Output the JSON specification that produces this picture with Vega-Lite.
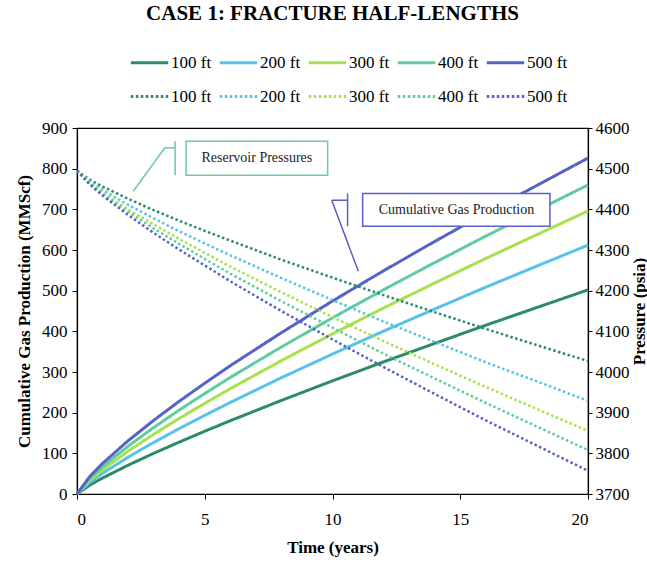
{
  "$schema": "https://vega.github.io/schema/vega-lite/v6.json",
  "width": 511,
  "height": 366,
  "autosize": {"type": "none"},
  "padding": {"left": 77, "top": 128, "right": 59, "bottom": 73},
  "background": "white",
  "title": {"text": "CASE 1: FRACTURE HALF-LENGTHS", "font": "Liberation Serif", "fontSize": 21, "fontWeight": "bold", "color": "black", "anchor": "middle", "offset": 18},
  "config": {
    "view": {"stroke": "black", "strokeWidth": 1.2},
    "axis": {"labelFont": "Liberation Serif", "titleFont": "Liberation Serif", "labelFontSize": 17, "titleFontSize": 17, "titleFontWeight": "bold", "labelColor": "black", "titleColor": "black", "domainColor": "black", "tickColor": "black", "grid": false, "tickSize": 5, "domainWidth": 1.2, "format": "d"},
    "legend": {"labelFont": "Liberation Serif", "labelFontSize": 17, "labelColor": "black", "labelFontWeight": "normal"}
  },
  "datasets": {
    "gas": [
      {"t": 0, "curve": "Gas 100 ft", "v": 0}, {"t": 0.5, "curve": "Gas 100 ft", "v": 21.8}, {"t": 1, "curve": "Gas 100 ft", "v": 39.3}, {"t": 2, "curve": "Gas 100 ft", "v": 70.8}, {"t": 3, "curve": "Gas 100 ft", "v": 100}, {"t": 4, "curve": "Gas 100 ft", "v": 127.6}, {"t": 5, "curve": "Gas 100 ft", "v": 154.3}, {"t": 6, "curve": "Gas 100 ft", "v": 180.2}, {"t": 8, "curve": "Gas 100 ft", "v": 230.1}, {"t": 10, "curve": "Gas 100 ft", "v": 278.2}, {"t": 12, "curve": "Gas 100 ft", "v": 324.9}, {"t": 14, "curve": "Gas 100 ft", "v": 370.3}, {"t": 16, "curve": "Gas 100 ft", "v": 415}, {"t": 18, "curve": "Gas 100 ft", "v": 458.6}, {"t": 20, "curve": "Gas 100 ft", "v": 502},
      {"t": 0, "curve": "Gas 200 ft", "v": 0}, {"t": 0.5, "curve": "Gas 200 ft", "v": 28.6}, {"t": 1, "curve": "Gas 200 ft", "v": 50.9}, {"t": 2, "curve": "Gas 200 ft", "v": 90.5}, {"t": 3, "curve": "Gas 200 ft", "v": 126.7}, {"t": 4, "curve": "Gas 200 ft", "v": 160.8}, {"t": 5, "curve": "Gas 200 ft", "v": 193.4}, {"t": 6, "curve": "Gas 200 ft", "v": 225.2}, {"t": 8, "curve": "Gas 200 ft", "v": 286}, {"t": 10, "curve": "Gas 200 ft", "v": 344.1}, {"t": 12, "curve": "Gas 200 ft", "v": 400.5}, {"t": 14, "curve": "Gas 200 ft", "v": 454.8}, {"t": 16, "curve": "Gas 200 ft", "v": 508.7}, {"t": 18, "curve": "Gas 200 ft", "v": 560.4}, {"t": 20, "curve": "Gas 200 ft", "v": 612},
      {"t": 0, "curve": "Gas 300 ft", "v": 0}, {"t": 0.5, "curve": "Gas 300 ft", "v": 33.8}, {"t": 1, "curve": "Gas 300 ft", "v": 59.6}, {"t": 2, "curve": "Gas 300 ft", "v": 105.2}, {"t": 3, "curve": "Gas 300 ft", "v": 146.7}, {"t": 4, "curve": "Gas 300 ft", "v": 185.8}, {"t": 5, "curve": "Gas 300 ft", "v": 222.9}, {"t": 6, "curve": "Gas 300 ft", "v": 259}, {"t": 8, "curve": "Gas 300 ft", "v": 327.9}, {"t": 10, "curve": "Gas 300 ft", "v": 393.8}, {"t": 12, "curve": "Gas 300 ft", "v": 457.4}, {"t": 14, "curve": "Gas 300 ft", "v": 518.8}, {"t": 16, "curve": "Gas 300 ft", "v": 579.2}, {"t": 18, "curve": "Gas 300 ft", "v": 637.7}, {"t": 20, "curve": "Gas 300 ft", "v": 696},
      {"t": 0, "curve": "Gas 400 ft", "v": 0}, {"t": 0.5, "curve": "Gas 400 ft", "v": 38.3}, {"t": 1, "curve": "Gas 400 ft", "v": 67.1}, {"t": 2, "curve": "Gas 400 ft", "v": 117.6}, {"t": 3, "curve": "Gas 400 ft", "v": 163.4}, {"t": 4, "curve": "Gas 400 ft", "v": 206.3}, {"t": 5, "curve": "Gas 400 ft", "v": 247}, {"t": 6, "curve": "Gas 400 ft", "v": 286.6}, {"t": 8, "curve": "Gas 400 ft", "v": 361.5}, {"t": 10, "curve": "Gas 400 ft", "v": 433.2}, {"t": 12, "curve": "Gas 400 ft", "v": 502.3}, {"t": 14, "curve": "Gas 400 ft", "v": 569.2}, {"t": 16, "curve": "Gas 400 ft", "v": 634.1}, {"t": 18, "curve": "Gas 400 ft", "v": 697.2}, {"t": 20, "curve": "Gas 400 ft", "v": 760},
      {"t": 0, "curve": "Gas 500 ft", "v": 0}, {"t": 0.5, "curve": "Gas 500 ft", "v": 43.2}, {"t": 1, "curve": "Gas 500 ft", "v": 75.2}, {"t": 2, "curve": "Gas 500 ft", "v": 130.9}, {"t": 3, "curve": "Gas 500 ft", "v": 181.1}, {"t": 4, "curve": "Gas 500 ft", "v": 227.9}, {"t": 5, "curve": "Gas 500 ft", "v": 272.4}, {"t": 6, "curve": "Gas 500 ft", "v": 315.5}, {"t": 8, "curve": "Gas 500 ft", "v": 396.7}, {"t": 10, "curve": "Gas 500 ft", "v": 474.5}, {"t": 12, "curve": "Gas 500 ft", "v": 549}, {"t": 14, "curve": "Gas 500 ft", "v": 620.9}, {"t": 16, "curve": "Gas 500 ft", "v": 691}, {"t": 18, "curve": "Gas 500 ft", "v": 758.8}, {"t": 20, "curve": "Gas 500 ft", "v": 826}
    ],
    "pressure": [
      {"t": 0, "curve": "Pressure 100 ft", "p": 4495}, {"t": 0.5, "curve": "Pressure 100 ft", "p": 4473}, {"t": 1, "curve": "Pressure 100 ft", "p": 4456}, {"t": 2, "curve": "Pressure 100 ft", "p": 4426}, {"t": 3, "curve": "Pressure 100 ft", "p": 4398}, {"t": 4, "curve": "Pressure 100 ft", "p": 4372}, {"t": 5, "curve": "Pressure 100 ft", "p": 4347}, {"t": 6, "curve": "Pressure 100 ft", "p": 4323}, {"t": 8, "curve": "Pressure 100 ft", "p": 4276}, {"t": 10, "curve": "Pressure 100 ft", "p": 4232}, {"t": 12, "curve": "Pressure 100 ft", "p": 4189}, {"t": 14, "curve": "Pressure 100 ft", "p": 4147}, {"t": 16, "curve": "Pressure 100 ft", "p": 4106}, {"t": 18, "curve": "Pressure 100 ft", "p": 4066}, {"t": 20, "curve": "Pressure 100 ft", "p": 4027},
      {"t": 0, "curve": "Pressure 200 ft", "p": 4495}, {"t": 0.5, "curve": "Pressure 200 ft", "p": 4469}, {"t": 1, "curve": "Pressure 200 ft", "p": 4448}, {"t": 2, "curve": "Pressure 200 ft", "p": 4411}, {"t": 3, "curve": "Pressure 200 ft", "p": 4378}, {"t": 4, "curve": "Pressure 200 ft", "p": 4346}, {"t": 5, "curve": "Pressure 200 ft", "p": 4316}, {"t": 6, "curve": "Pressure 200 ft", "p": 4287}, {"t": 8, "curve": "Pressure 200 ft", "p": 4231}, {"t": 10, "curve": "Pressure 200 ft", "p": 4177}, {"t": 12, "curve": "Pressure 200 ft", "p": 4124}, {"t": 14, "curve": "Pressure 200 ft", "p": 4074}, {"t": 16, "curve": "Pressure 200 ft", "p": 4024}, {"t": 18, "curve": "Pressure 200 ft", "p": 3977}, {"t": 20, "curve": "Pressure 200 ft", "p": 3929},
      {"t": 0, "curve": "Pressure 300 ft", "p": 4495}, {"t": 0.5, "curve": "Pressure 300 ft", "p": 4465}, {"t": 1, "curve": "Pressure 300 ft", "p": 4442}, {"t": 2, "curve": "Pressure 300 ft", "p": 4400}, {"t": 3, "curve": "Pressure 300 ft", "p": 4363}, {"t": 4, "curve": "Pressure 300 ft", "p": 4327}, {"t": 5, "curve": "Pressure 300 ft", "p": 4293}, {"t": 6, "curve": "Pressure 300 ft", "p": 4259}, {"t": 8, "curve": "Pressure 300 ft", "p": 4196}, {"t": 10, "curve": "Pressure 300 ft", "p": 4135}, {"t": 12, "curve": "Pressure 300 ft", "p": 4076}, {"t": 14, "curve": "Pressure 300 ft", "p": 4019}, {"t": 16, "curve": "Pressure 300 ft", "p": 3963}, {"t": 18, "curve": "Pressure 300 ft", "p": 3909}, {"t": 20, "curve": "Pressure 300 ft", "p": 3855},
      {"t": 0, "curve": "Pressure 400 ft", "p": 4495}, {"t": 0.5, "curve": "Pressure 400 ft", "p": 4463}, {"t": 1, "curve": "Pressure 400 ft", "p": 4438}, {"t": 2, "curve": "Pressure 400 ft", "p": 4394}, {"t": 3, "curve": "Pressure 400 ft", "p": 4353}, {"t": 4, "curve": "Pressure 400 ft", "p": 4315}, {"t": 5, "curve": "Pressure 400 ft", "p": 4278}, {"t": 6, "curve": "Pressure 400 ft", "p": 4242}, {"t": 8, "curve": "Pressure 400 ft", "p": 4174}, {"t": 10, "curve": "Pressure 400 ft", "p": 4109}, {"t": 12, "curve": "Pressure 400 ft", "p": 4045}, {"t": 14, "curve": "Pressure 400 ft", "p": 3984}, {"t": 16, "curve": "Pressure 400 ft", "p": 3924}, {"t": 18, "curve": "Pressure 400 ft", "p": 3866}, {"t": 20, "curve": "Pressure 400 ft", "p": 3808},
      {"t": 0, "curve": "Pressure 500 ft", "p": 4495}, {"t": 0.5, "curve": "Pressure 500 ft", "p": 4461}, {"t": 1, "curve": "Pressure 500 ft", "p": 4434}, {"t": 2, "curve": "Pressure 500 ft", "p": 4386}, {"t": 3, "curve": "Pressure 500 ft", "p": 4342}, {"t": 4, "curve": "Pressure 500 ft", "p": 4301}, {"t": 5, "curve": "Pressure 500 ft", "p": 4262}, {"t": 6, "curve": "Pressure 500 ft", "p": 4223}, {"t": 8, "curve": "Pressure 500 ft", "p": 4150}, {"t": 10, "curve": "Pressure 500 ft", "p": 4080}, {"t": 12, "curve": "Pressure 500 ft", "p": 4012}, {"t": 14, "curve": "Pressure 500 ft", "p": 3946}, {"t": 16, "curve": "Pressure 500 ft", "p": 3881}, {"t": 18, "curve": "Pressure 500 ft", "p": 3819}, {"t": 20, "curve": "Pressure 500 ft", "p": 3757}
    ],
    "callouts": [
      {"group": "Reservoir Pressures", "t": 3.84, "v": 867.5, "t2": 3.84, "v2": 783.6},
      {"group": "Reservoir Pressures", "t": 3.44, "v": 851.3, "t2": 3.84, "v2": 851.3},
      {"group": "Reservoir Pressures", "t": 3.44, "v": 851.3, "t2": 2.2, "v2": 744.5},
      {"group": "Cumulative Gas Production", "t": 10.59, "v": 738.9, "t2": 10.59, "v2": 658.5},
      {"group": "Cumulative Gas Production", "t": 9.97, "v": 722.4, "t2": 10.59, "v2": 722.4},
      {"group": "Cumulative Gas Production", "t": 9.97, "v": 722.4, "t2": 11.01, "v2": 547.8}
    ],
    "boxes": [
      {"group": "Reservoir Pressures", "t": 4.27, "v": 867.5, "t2": 9.81, "v2": 783.6, "tc": 7.04, "vc": 825.2},
      {"group": "Cumulative Gas Production", "t": 11.18, "v": 738.9, "t2": 18.51, "v2": 658.5, "tc": 14.85, "vc": 698.6}
    ]
  },
  "layer": [
    {
      "layer": [
        {
          "data": {"name": "gas"},
          "mark": {"type": "line", "strokeWidth": 3},
          "encoding": {
            "x": {"field": "t", "type": "quantitative", "scale": {"domain": [0, 20], "nice": false}, "axis": {"title": "Time (years)", "values": [0, 5, 10, 15, 20], "labelPadding": 12, "titlePadding": 12}},
            "y": {"field": "v", "type": "quantitative", "scale": {"domain": [0, 900], "nice": false}, "axis": {"title": "Cumulative Gas Production (MMScf)", "orient": "left", "values": [0, 100, 200, 300, 400, 500, 600, 700, 800, 900], "labelPadding": 5, "titlePadding": 8}},
            "color": {"field": "curve", "type": "nominal",
              "scale": {"domain": ["Gas 100 ft", "Gas 200 ft", "Gas 300 ft", "Gas 400 ft", "Gas 500 ft", "Pressure 100 ft", "Pressure 200 ft", "Pressure 300 ft", "Pressure 400 ft", "Pressure 500 ft"],
                        "range": ["#2e8b67", "#58c2e8", "#a8e04e", "#5fcca0", "#5563c6", "#2e8b67", "#58c2e8", "#a8e04e", "#5fcca0", "#5563c6"]},
              "legend": {"title": null, "orient": "none", "legendX": 52, "legendY": -86, "columns": 5, "direction": "horizontal", "symbolType": "stroke", "symbolSize": 1400, "symbolStrokeWidth": 3, "labelExpr": "slice(datum.label, -6)", "columnPadding": 1, "rowPadding": 5, "labelOffset": 1}},
            "strokeDash": {"field": "curve", "type": "nominal",
              "scale": {"domain": ["Gas 100 ft", "Gas 200 ft", "Gas 300 ft", "Gas 400 ft", "Gas 500 ft", "Pressure 100 ft", "Pressure 200 ft", "Pressure 300 ft", "Pressure 400 ft", "Pressure 500 ft"],
                        "range": [[1, 0], [1, 0], [1, 0], [1, 0], [1, 0], [2.5, 2.5], [2.5, 2.5], [2.5, 2.5], [2.5, 2.5], [2.5, 2.5]]}}
          }
        },
        {
          "data": {"name": "callouts"},
          "mark": {"type": "rule", "strokeWidth": 1.5},
          "encoding": {
            "x": {"field": "t", "type": "quantitative"},
            "y": {"field": "v", "type": "quantitative"},
            "x2": {"field": "t2"},
            "y2": {"field": "v2"},
            "stroke": {"field": "group", "type": "nominal", "scale": {"domain": ["Reservoir Pressures", "Cumulative Gas Production"], "range": ["#6cc9a8", "#5a5ec6"]}, "legend": null}
          }
        },
        {
          "data": {"name": "boxes"},
          "mark": {"type": "rect", "fill": "white", "strokeWidth": 1.5},
          "encoding": {
            "x": {"field": "t", "type": "quantitative"},
            "y": {"field": "v", "type": "quantitative"},
            "x2": {"field": "t2"},
            "y2": {"field": "v2"},
            "stroke": {"field": "group", "type": "nominal", "legend": null}
          }
        },
        {
          "data": {"name": "boxes"},
          "mark": {"type": "text", "font": "Liberation Serif", "fontSize": 14, "color": "#222222", "align": "center", "baseline": "middle"},
          "encoding": {
            "x": {"field": "tc", "type": "quantitative"},
            "y": {"field": "vc", "type": "quantitative"},
            "text": {"field": "group"}
          }
        }
      ]
    },
    {
      "data": {"name": "pressure"},
      "mark": {"type": "line", "strokeWidth": 2.5},
      "encoding": {
        "x": {"field": "t", "type": "quantitative"},
        "y": {"field": "p", "type": "quantitative", "scale": {"domain": [3700, 4600], "nice": false, "zero": false}, "axis": {"title": "Pressure (psia)", "orient": "right", "values": [3700, 3800, 3900, 4000, 4100, 4200, 4300, 4400, 4500, 4600], "tickSize": 4, "labelPadding": 3, "titlePadding": 2, "titleAngle": 270, "titleBaseline": "top"}},
        "color": {"field": "curve", "type": "nominal"},
        "strokeDash": {"field": "curve", "type": "nominal"}
      }
    }
  ],
  "resolve": {"scale": {"y": "independent"}}
}
